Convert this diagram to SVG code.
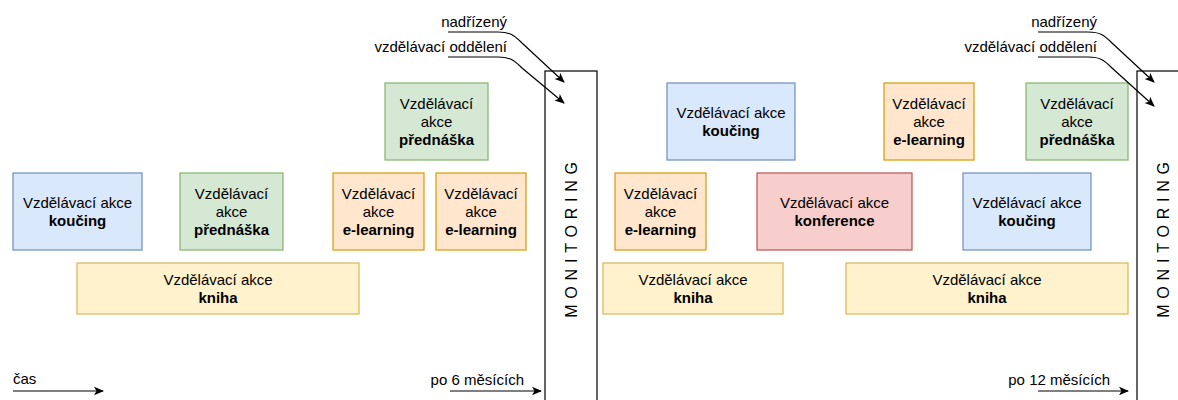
<svg xmlns="http://www.w3.org/2000/svg" width="1178" height="400" viewBox="0 0 1178 400">
  <defs>
    <marker id="arrow" viewBox="0 0 10 10" refX="9" refY="5" markerWidth="10" markerHeight="10" markerUnits="userSpaceOnUse" orient="auto">
      <path d="M0,0.8 L10,5 L0,9.2 L2.5,5 Z" fill="#000"/>
    </marker>
    <style>
      text { font-family: "Liberation Sans", Arial, Helvetica, sans-serif; font-size: 15px; fill: #000; }
      .c { text-anchor: middle; }
      .e { text-anchor: end; }
      .b { font-weight: bold; }
      .mon { font-size: 16px; letter-spacing: 5.8px; text-anchor: middle; }
      .box { stroke-width: 1.2; }
      .blue { fill: #dae8fc; stroke: #6c8ebf; }
      .green { fill: #d5e8d4; stroke: #82b366; }
      .orange { fill: #ffe6cc; stroke: #d79b00; }
      .yellow { fill: #fff2cc; stroke: #d6b656; }
      .red { fill: #f8cecc; stroke: #b85450; }
      .frame { fill: #fff; stroke: #000; stroke-width: 1.2; }
      .link { fill: none; stroke: #000; stroke-width: 1.2; marker-end: url(#arrow); }
    </style>
  </defs>

  <rect width="1178" height="400" fill="#fff"/>

  <!-- monitoring frames -->
  <g id="monitoring-6">
    <rect class="frame" x="545" y="71" width="52" height="340"/>
    <text class="mon" transform="translate(577,237) rotate(-90)">MONITORING</text>
  </g>
  <g id="monitoring-12">
    <rect class="frame" x="1137" y="71" width="60" height="340"/>
    <text class="mon" transform="translate(1169,237) rotate(-90)">MONITORING</text>
  </g>

  <!-- first half-year -->
  <g id="l-koucing">
    <rect class="box blue" x="13" y="173" width="129" height="77"/>
    <text class="c" x="77.5" y="207.5">Vzdělávací akce</text>
    <text class="c b" x="77.5" y="225.5">koučing</text>
  </g>
  <g id="l-prednaska">
    <rect class="box green" x="180" y="173" width="103" height="77"/>
    <text class="c" x="231.5" y="199">Vzdělávací</text>
    <text class="c" x="231.5" y="217">akce</text>
    <text class="c b" x="231.5" y="235">přednáška</text>
  </g>
  <g id="l-elearning-1">
    <rect class="box orange" x="333" y="173" width="91" height="77"/>
    <text class="c" x="378.5" y="199">Vzdělávací</text>
    <text class="c" x="378.5" y="217">akce</text>
    <text class="c b" x="378.5" y="235">e-learning</text>
  </g>
  <g id="l-elearning-2">
    <rect class="box orange" x="436" y="173" width="90" height="77"/>
    <text class="c" x="481" y="199">Vzdělávací</text>
    <text class="c" x="481" y="217">akce</text>
    <text class="c b" x="481" y="235">e-learning</text>
  </g>
  <g id="l-prednaska-top">
    <rect class="box green" x="385" y="83" width="103" height="77"/>
    <text class="c" x="436.5" y="109">Vzdělávací</text>
    <text class="c" x="436.5" y="127">akce</text>
    <text class="c b" x="436.5" y="145">přednáška</text>
  </g>
  <g id="l-kniha">
    <rect class="box yellow" x="77" y="263" width="282" height="51"/>
    <text class="c" x="218" y="284.5">Vzdělávací akce</text>
    <text class="c b" x="218" y="302.5">kniha</text>
  </g>

  <!-- second half-year -->
  <g id="r-koucing-top">
    <rect class="box blue" x="667" y="83" width="128" height="77"/>
    <text class="c" x="731" y="117.5">Vzdělávací akce</text>
    <text class="c b" x="731" y="135.5">koučing</text>
  </g>
  <g id="r-elearning-top">
    <rect class="box orange" x="884" y="83" width="90" height="77"/>
    <text class="c" x="929" y="109">Vzdělávací</text>
    <text class="c" x="929" y="127">akce</text>
    <text class="c b" x="929" y="145">e-learning</text>
  </g>
  <g id="r-prednaska-top">
    <rect class="box green" x="1026" y="83" width="102" height="77"/>
    <text class="c" x="1077" y="109">Vzdělávací</text>
    <text class="c" x="1077" y="127">akce</text>
    <text class="c b" x="1077" y="145">přednáška</text>
  </g>
  <g id="r-elearning">
    <rect class="box orange" x="615" y="173" width="91" height="77"/>
    <text class="c" x="660.5" y="199">Vzdělávací</text>
    <text class="c" x="660.5" y="217">akce</text>
    <text class="c b" x="660.5" y="235">e-learning</text>
  </g>
  <g id="r-konference">
    <rect class="box red" x="757" y="173" width="155" height="77"/>
    <text class="c" x="834.5" y="207.5">Vzdělávací akce</text>
    <text class="c b" x="834.5" y="225.5">konference</text>
  </g>
  <g id="r-koucing">
    <rect class="box blue" x="963" y="173" width="128" height="77"/>
    <text class="c" x="1027" y="207.5">Vzdělávací akce</text>
    <text class="c b" x="1027" y="225.5">koučing</text>
  </g>
  <g id="r-kniha-1">
    <rect class="box yellow" x="603" y="263" width="180" height="51"/>
    <text class="c" x="693" y="284.5">Vzdělávací akce</text>
    <text class="c b" x="693" y="302.5">kniha</text>
  </g>
  <g id="r-kniha-2">
    <rect class="box yellow" x="846" y="263" width="282" height="51"/>
    <text class="c" x="987" y="284.5">Vzdělávací akce</text>
    <text class="c b" x="987" y="302.5">kniha</text>
  </g>

  <!-- labels -->
  <g id="labels">
    <text class="e" x="507" y="27">nadřízený</text>
    <text class="e" x="507" y="52">vzdělávací oddělení</text>
    <text class="e" x="1097" y="27">nadřízený</text>
    <text class="e" x="1097" y="52">vzdělávací oddělení</text>
    <text x="13" y="384">čas</text>
    <text class="e" x="524" y="385">po 6 měsících</text>
    <text class="e" x="1110" y="385">po 12 měsících</text>
  </g>

  <!-- connectors -->
  <g id="connectors">
    <path class="link" d="M448,32 L498,32 C510,32 514,35 522,43 L564,82"/>
    <path class="link" d="M448,57 L498,57 C510,57 514,60 522,68 L564,103"/>
    <path class="link" d="M1038,32 L1088,32 C1100,32 1104,35 1112,43 L1154,82"/>
    <path class="link" d="M1038,57 L1088,57 C1100,57 1104,60 1112,68 L1154,106"/>
    <path class="link" d="M13,391 L103,391"/>
    <path class="link" d="M450,391 L541,391"/>
    <path class="link" d="M1038,391 L1128,391"/>
  </g>
</svg>
